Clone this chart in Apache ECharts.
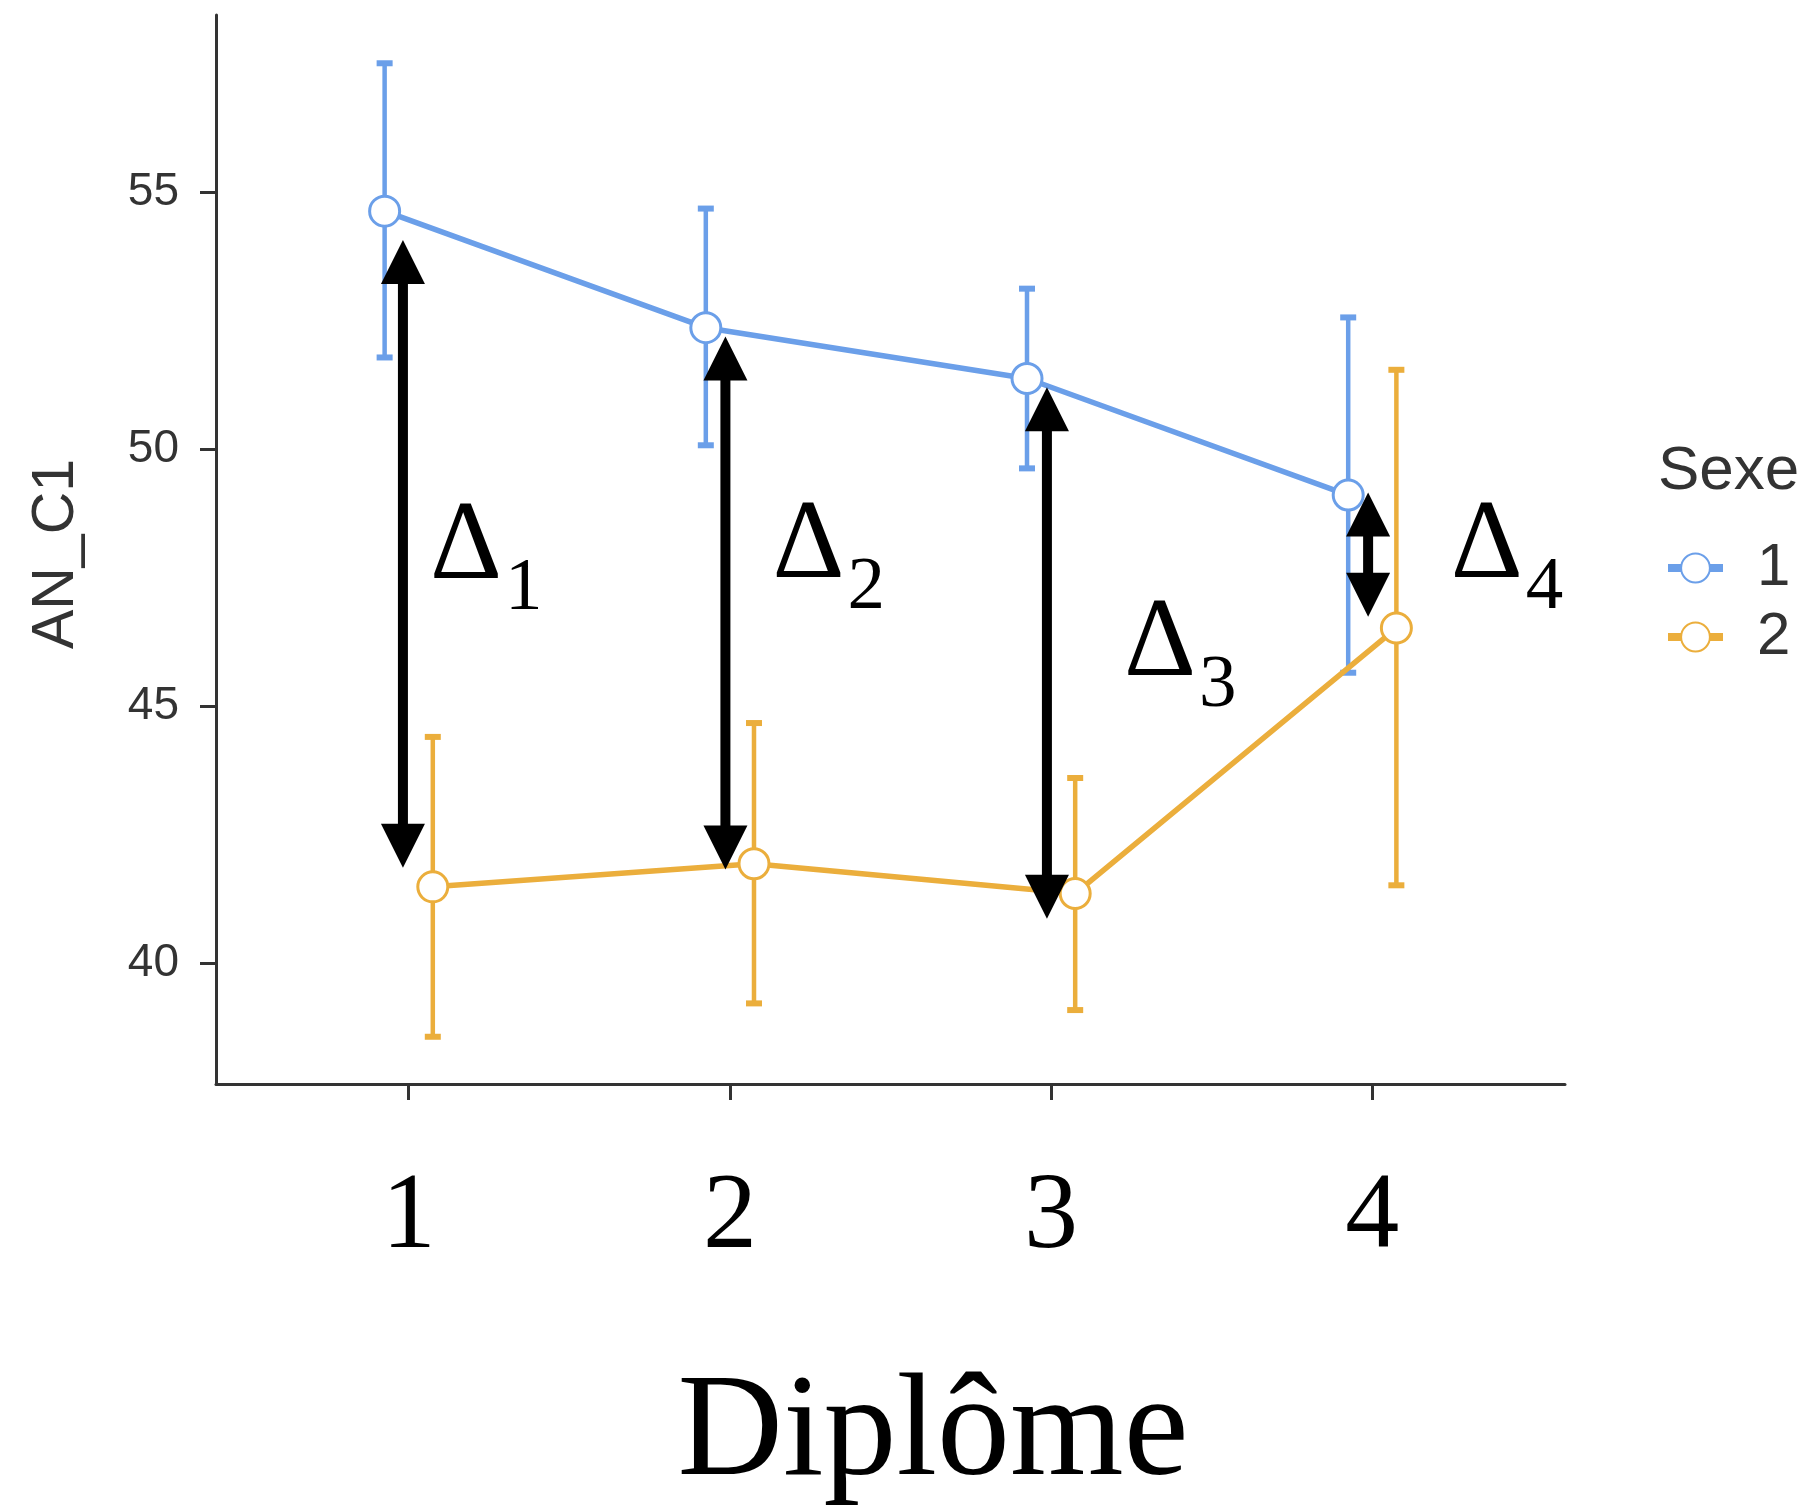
<!DOCTYPE html>
<html>
<head>
<meta charset="utf-8">
<title>AN_C1 par Diplôme et Sexe</title>
<script src="https://cdn.jsdelivr.net/npm/echarts@6/dist/echarts.min.js"></script>
<style>
  html, body { margin: 0; padding: 0; background: #fff; }
  #chart { width: 1808px; height: 1505px; }
</style>
</head>
<body>
<div id="chart"></div>
<script>
// categories (Diplôme) and y ticks
var diplome = [1, 2, 3, 4];
var yTicks = [40, 45, 50, 55];
var sexes = ["1", "2"];

// Sexe = 1 : moyenne et intervalle
var mean1 = [54.64, 52.37, 51.38, 49.11];
var upper1 = [57.52, 54.69, 53.13, 52.57];
var lower1 = [51.79, 50.08, 49.63, 45.65];

// Sexe = 2
var mean2 = [41.48, 41.93, 41.35, 46.52];
var upper2 = [44.40, 44.67, 43.60, 51.55];
var lower2 = [38.56, 39.21, 39.08, 41.51];

// flèches Δ (x, haut, bas) et libellés (x, y de la ligne de base)
var arrowX = [0.982, 1.986, 2.987, 3.987];
var arrowTop = [54.08, 52.20, 51.21, 49.16];
var arrowBottom = [41.85, 41.82, 40.86, 46.74];
var deltaX = [1.066, 2.133, 3.227, 4.244];
var deltaY = [47.33, 47.35, 45.44, 47.35];
var deltaSub = ["1", "2", "3", "4"];

var colors = ["#6b9fe9", "#ebae3c"];
var dodge = 0.075;
var serif = '"Liberation Serif", "DejaVu Serif", serif';
var sans = '"Liberation Sans", Arial, sans-serif';

function pairs(xs, off, ys) {
    return xs.map(function(x, i) { return [x + off, ys[i]]; });
}

function errData(off, lo, hi) {
    return diplome.map(function(x, i) { return [x + off, lo[i], hi[i]]; });
}

// barres d'erreur
function errorBarItem(color) {
    return function(params, api) {
        var x = api.value(0);
        var lo = api.coord([x, api.value(1)]);
        var hi = api.coord([x, api.value(2)]);
        var half = 8;
        return {
            type: 'group',
            children: [
                { type: 'line', shape: { x1: lo[0], y1: lo[1], x2: hi[0], y2: hi[1] },
                  style: { stroke: color, lineWidth: 4.5 } },
                { type: 'line', shape: { x1: hi[0] - half, y1: hi[1], x2: hi[0] + half, y2: hi[1] },
                  style: { stroke: color, lineWidth: 6 } },
                { type: 'line', shape: { x1: lo[0] - half, y1: lo[1], x2: lo[0] + half, y2: lo[1] },
                  style: { stroke: color, lineWidth: 6 } }
            ]
        };
    };
}

// flèche double noire
function arrowItem(params, api) {
    var x = api.value(0);
    var top = api.coord([x, api.value(1)]);
    var bot = api.coord([x, api.value(2)]);
    var hw = 22, hh = 44, sw = 10;
    var px = top[0];
    return {
        type: 'group',
        children: [
            { type: 'rect', shape: { x: px - sw / 2, y: top[1] + hh - 1, width: sw, height: bot[1] - top[1] - 2 * hh + 2 },
              style: { fill: '#000' } },
            { type: 'polygon', shape: { points: [[px, top[1]], [px - hw, top[1] + hh], [px + hw, top[1] + hh]] },
              style: { fill: '#000' } },
            { type: 'polygon', shape: { points: [[px, bot[1]], [px - hw, bot[1] - hh], [px + hw, bot[1] - hh]] },
              style: { fill: '#000' } }
        ]
    };
}

// libellé Δ avec indice
function deltaItem(params, api) {
    var p = api.coord([api.value(0), api.value(1)]);
    var big = 112, small = 75;
    return {
        type: 'group',
        children: [
            { type: 'text', x: p[0], y: p[1] - 0.3375 * big,
              style: { text: 'Δ', fontSize: big, fontFamily: serif, fill: '#000', align: 'left', verticalAlign: 'middle' } },
            { type: 'text', x: p[0] + 75, y: p[1] + 28 - 0.3375 * small,
              style: { text: deltaSub[params.dataIndex], fontSize: small, fontFamily: serif, fill: '#000', align: 'left', verticalAlign: 'middle' } }
        ]
    };
}

var chart = echarts.init(document.getElementById('chart'));
chart.setOption({
    animation: false,
    backgroundColor: '#fff',
    grid: { left: 216, right: 243, top: 15, bottom: 421 },
    legend: {
        orient: 'vertical',
        left: 1659,
        top: 533,
        itemWidth: 55,
        itemHeight: 36,
        itemGap: 9,
        data: sexes,
        lineStyle: { width: 8 },
        textStyle: { fontSize: 60, fontFamily: sans, color: '#333', padding: [0, 0, 0, 29] }
    },
    graphic: [
        { type: 'text', left: 1658, top: 441,
          style: { text: 'Sexe', fontSize: 62, fontFamily: sans, fill: '#333' } },
        { type: 'text', x: 57, y: 554, rotation: Math.PI / 2,
          style: { text: 'AN_C1', fontSize: 59, fontFamily: sans, fill: '#333', align: 'center', verticalAlign: 'middle' } },
        { type: 'text', x: 933, y: 1436,
          style: { text: 'Diplôme', fontSize: 146, fontFamily: serif, fill: '#000', align: 'center', verticalAlign: 'middle' } }
    ],
    xAxis: {
        type: 'value',
        min: 0.4,
        max: 4.6,
        splitLine: { show: false },
        axisLine: { lineStyle: { color: '#333', width: 3 } },
        axisTick: { show: true, length: 16, lineStyle: { color: '#333', width: 3 }, customValues: diplome },
        axisLabel: { customValues: diplome, margin: 81, fontSize: 108, fontFamily: serif, color: '#000' }
    },
    yAxis: {
        type: 'value',
        min: 37.64,
        max: 58.46,
        splitLine: { show: false },
        axisLine: { show: true, lineStyle: { color: '#333', width: 3 } },
        axisTick: { show: true, length: 16, lineStyle: { color: '#333', width: 3 }, customValues: yTicks },
        axisLabel: { customValues: yTicks, margin: 37, fontSize: 46, fontFamily: sans, color: '#333' }
    },
    series: [
        { type: 'custom', name: 'err1', renderItem: errorBarItem(colors[0]), data: errData(-dodge, lower1, upper1),
          encode: { x: 0, y: [1, 2] }, z: 1, silent: true },
        { type: 'custom', name: 'err2', renderItem: errorBarItem(colors[1]), data: errData(dodge, lower2, upper2),
          encode: { x: 0, y: [1, 2] }, z: 1, silent: true },
        { type: 'line', name: sexes[0], data: pairs(diplome, -dodge, mean1), z: 2,
          color: colors[0], symbol: 'circle', symbolSize: 30,
          lineStyle: { color: colors[0], width: 5.5 },
          itemStyle: { color: '#fff', borderColor: colors[0], borderWidth: 3 } },
        { type: 'line', name: sexes[1], data: pairs(diplome, dodge, mean2), z: 3,
          color: colors[1], symbol: 'circle', symbolSize: 30,
          lineStyle: { color: colors[1], width: 5.5 },
          itemStyle: { color: '#fff', borderColor: colors[1], borderWidth: 3 } },
        { type: 'custom', name: 'arrows', renderItem: arrowItem,
          data: arrowX.map(function(x, i) { return [x, arrowTop[i], arrowBottom[i]]; }),
          encode: { x: 0, y: [1, 2] }, z: 5, silent: true },
        { type: 'custom', name: 'deltas', renderItem: deltaItem,
          data: deltaX.map(function(x, i) { return [x, deltaY[i]]; }),
          encode: { x: 0, y: 1 }, z: 6, silent: true }
    ]
});
</script>
</body>
</html>
